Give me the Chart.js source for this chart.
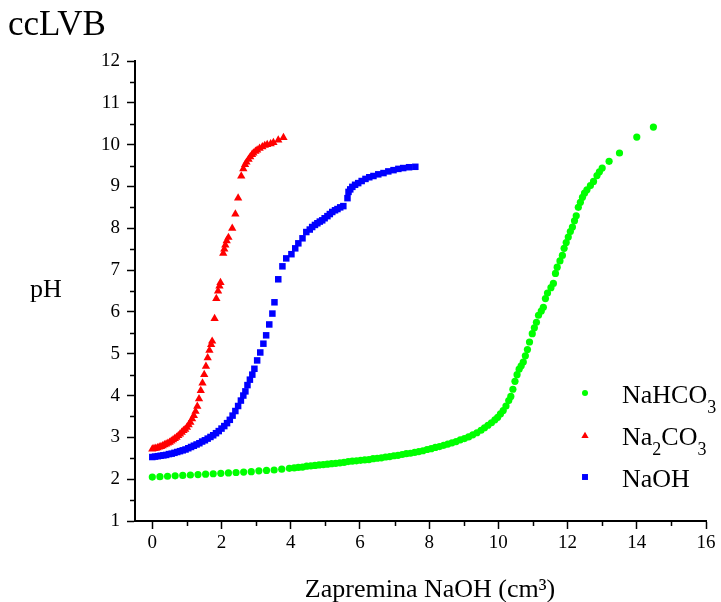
<!DOCTYPE html>
<html>
<head>
<meta charset="utf-8">
<script src="https://cdn.jsdelivr.net/npm/chart.js@4.4.0/dist/chart.umd.min.js"></script>
<style>
	html, body { margin: 0; padding: 0; background: #ffffff; }
	#wrap { position: relative; width: 721px; height: 602px; }
</style>
</head>
<body>
<div id="wrap"><canvas id="phChart"></canvas></div>
<script>
// Titration data (volume NaOH in cm3, pH)
const nahco3X = [0.00,0.22,0.44,0.66,0.88,1.10,1.32,1.54,1.76,1.98,2.20,2.42,2.64,2.86,3.08,3.30,3.52,3.74,3.96,4.10,4.22,4.34,4.46,4.58,4.70,4.82,4.94,5.06,5.18,5.30,5.42,5.54,5.66,5.78,5.90,6.02,6.14,6.26,6.38,6.50,6.62,6.74,6.86,6.98,7.10,7.22,7.34,7.46,7.58,7.70,7.82,7.94,8.06,8.18,8.30,8.42,8.54,8.66,8.78,8.90,9.02,9.14,9.26,9.38,9.50,9.60,9.70,9.80,9.90,9.98,10.06,10.14,10.22,10.30,10.36,10.42,10.48,10.54,10.60,10.66,10.72,10.78,10.84,10.90,10.98,11.04,11.10,11.16,11.24,11.30,11.36,11.42,11.52,11.59,11.65,11.70,11.78,11.85,11.90,11.96,12.02,12.08,12.14,12.20,12.25,12.31,12.37,12.43,12.49,12.56,12.66,12.75,12.85,12.92,13.00,13.20,13.50,14.00,14.48];
const nahco3Y = [2.05,2.06,2.07,2.08,2.09,2.10,2.11,2.12,2.13,2.14,2.15,2.16,2.17,2.18,2.20,2.21,2.22,2.24,2.26,2.27,2.28,2.29,2.31,2.32,2.33,2.34,2.35,2.36,2.37,2.38,2.39,2.40,2.42,2.43,2.44,2.45,2.46,2.47,2.49,2.50,2.51,2.53,2.54,2.56,2.57,2.59,2.61,2.62,2.64,2.66,2.68,2.71,2.73,2.76,2.78,2.81,2.84,2.87,2.90,2.94,2.97,3.01,3.06,3.11,3.17,3.23,3.29,3.35,3.42,3.48,3.56,3.64,3.75,3.88,3.98,4.15,4.34,4.50,4.63,4.71,4.80,4.95,5.10,5.28,5.48,5.62,5.75,5.92,6.02,6.11,6.32,6.45,6.58,6.68,6.92,7.07,7.22,7.35,7.52,7.66,7.79,7.92,8.03,8.18,8.30,8.50,8.62,8.74,8.84,8.92,9.02,9.12,9.26,9.35,9.44,9.60,9.80,10.18,10.42];

const na2co3X = [0.00,0.05,0.10,0.15,0.20,0.25,0.30,0.35,0.40,0.45,0.50,0.55,0.60,0.65,0.70,0.75,0.80,0.85,0.90,0.95,1.00,1.05,1.10,1.15,1.20,1.25,1.30,1.35,1.40,1.45,1.50,1.55,1.60,1.65,1.70,1.73,1.80,1.85,1.90,1.94,1.97,2.05,2.08,2.11,2.15,2.20,2.31,2.40,2.48,2.57,2.63,2.68,2.72,2.78,2.83,2.88,2.92,2.98,3.03,3.10,3.18,3.25,3.32,3.42,3.50,3.64,3.79];
const na2co3Y = [2.72,2.73,2.74,2.75,2.77,2.78,2.80,2.82,2.84,2.86,2.88,2.91,2.94,2.97,3.00,3.04,3.08,3.12,3.16,3.19,3.24,3.30,3.36,3.44,3.52,3.62,3.74,3.92,4.12,4.30,4.50,4.70,4.90,5.08,5.22,5.30,5.84,6.32,6.50,6.62,6.70,7.40,7.50,7.60,7.70,7.78,8.00,8.34,8.72,9.25,9.42,9.52,9.58,9.65,9.71,9.76,9.80,9.84,9.87,9.91,9.95,9.98,10.00,10.02,10.05,10.11,10.17];

const naohX = [0.00,0.08,0.16,0.24,0.32,0.40,0.48,0.56,0.64,0.72,0.80,0.88,0.96,1.04,1.12,1.20,1.28,1.36,1.44,1.52,1.60,1.68,1.76,1.84,1.92,2.00,2.08,2.16,2.24,2.32,2.40,2.48,2.56,2.63,2.69,2.75,2.82,2.89,2.95,3.03,3.12,3.21,3.29,3.38,3.47,3.53,3.64,3.76,3.87,4.02,4.13,4.22,4.34,4.45,4.55,4.62,4.70,4.77,4.84,4.91,4.98,5.06,5.13,5.20,5.28,5.35,5.43,5.52,5.64,5.67,5.72,5.78,5.86,5.95,6.05,6.16,6.27,6.39,6.53,6.68,6.82,6.97,7.11,7.25,7.42,7.60];
const naohY = [2.53,2.54,2.55,2.56,2.57,2.58,2.60,2.61,2.63,2.65,2.67,2.69,2.71,2.74,2.77,2.80,2.83,2.86,2.90,2.93,2.97,3.01,3.05,3.10,3.15,3.21,3.27,3.34,3.42,3.52,3.63,3.75,3.88,4.00,4.10,4.25,4.38,4.50,4.64,4.84,5.03,5.24,5.44,5.70,5.96,6.23,6.78,7.09,7.28,7.38,7.52,7.64,7.76,7.91,7.97,8.03,8.08,8.12,8.16,8.19,8.24,8.29,8.34,8.39,8.43,8.46,8.50,8.53,8.72,8.87,8.93,8.99,9.04,9.08,9.13,9.18,9.22,9.25,9.29,9.32,9.36,9.39,9.42,9.44,9.46,9.47];

// Axis ticks
const xTickValues = [0, 2, 4, 6, 8, 10, 12, 14, 16];
const xMinorValues = [1, 3, 5, 7, 9, 11, 13, 15];
const yTickValues = [1, 2, 3, 4, 5, 6, 7, 8, 9, 10, 11, 12];
const yMinorValues = [1.5, 2.5, 3.5, 4.5, 5.5, 6.5, 7.5, 8.5, 9.5, 10.5, 11.5];

// Legend labels, split so subscripts can be drawn smaller
const legendLabels = [
	[["NaHCO", false], ["3", true]],
	[["Na", false], ["2", true], ["CO", false], ["3", true]],
	[["NaOH", false]],
];

const serif = "'Liberation Serif', 'Times New Roman', serif";

function toPoints(xs, ys) {
	return xs.map((x, i) => ({ x: x, y: ys[i] }));
}

// Extra drawing: minor ticks, title, axis titles, legend
const decorPlugin = {
	id: "decor",
	afterDraw(chart) {
		const ctx = chart.ctx;
		const xs = chart.scales.x;
		const ys = chart.scales.y;
		ctx.save();

		// minor ticks
		ctx.strokeStyle = "#000000";
		ctx.lineWidth = 1.5;
		ctx.beginPath();
		xMinorValues.forEach((v) => {
			const px = Math.round(xs.getPixelForValue(v)) + 0.5;
			ctx.moveTo(px, xs.top);
			ctx.lineTo(px, xs.top + 5);
		});
		yMinorValues.forEach((v) => {
			const py = Math.round(ys.getPixelForValue(v)) + 0.5;
			ctx.moveTo(ys.right, py);
			ctx.lineTo(ys.right - 5, py);
		});
		ctx.stroke();

		ctx.fillStyle = "#000000";
		ctx.textAlign = "left";
		ctx.textBaseline = "alphabetic";

		// title
		ctx.font = "35px " + serif;
		ctx.fillText("ccLVB", 8, 35);

		// y axis title (horizontal)
		ctx.font = "26px " + serif;
		ctx.fillText("pH", 30, 297);

		// x axis title
		ctx.textAlign = "center";
		ctx.fillText("Zapremina NaOH (cm³)", 430, 597);
		ctx.textAlign = "left";

		// legend
		const markerX = 585;
		const rowY = [393, 436, 477];
		const baseY = [403, 445, 487];
		[0, 1, 2].forEach((dsIndex, row) => {
			const ds = chart.data.datasets[dsIndex];
			ctx.fillStyle = ds.backgroundColor;
			Chart.helpers.drawPoint(
				ctx,
				{
					pointStyle: ds.pointStyle,
					radius: ds.legendRadius,
					rotation: 0,
					borderWidth: 0,
				},
				markerX,
				rowY[row],
			);
			ctx.fillStyle = "#000000";
			let tx = 622;
			legendLabels[row].forEach(([text, sub]) => {
				ctx.font = (sub ? "18px " : "26px ") + serif;
				ctx.fillText(text, tx, baseY[row] + (sub ? 10 : 0));
				tx += ctx.measureText(text).width;
			});
		});

		ctx.restore();
	},
};

new Chart(document.getElementById("phChart"), {
	type: "scatter",
	data: {
		datasets: [
			{
				label: "NaHCO3",
				data: toPoints(nahco3X, nahco3Y),
				pointStyle: "circle",
				pointRadius: 3.6,
				legendRadius: 3,
				backgroundColor: "#00FF00",
				borderColor: "#00FF00",
				pointBorderWidth: 0,
			},
			{
				label: "Na2CO3",
				data: toPoints(na2co3X, na2co3Y),
				pointStyle: "triangle",
				pointRadius: 4.8,
				legendRadius: 4.2,
				backgroundColor: "#FF0000",
				borderColor: "#FF0000",
				pointBorderWidth: 0,
			},
			{
				label: "NaOH",
				data: toPoints(naohX, naohY),
				pointStyle: "rect",
				pointRadius: 4.6,
				legendRadius: 4.2,
				backgroundColor: "#0000FF",
				borderColor: "#0000FF",
				pointBorderWidth: 0,
			},
		],
	},
	options: {
		responsive: true,
		maintainAspectRatio: false,
		animation: false,
		events: [],
		layout: {
			padding: { left: 0, right: 15, top: 61, bottom: 0 },
		},
		plugins: {
			legend: { display: false },
			tooltip: { enabled: false },
		},
		scales: {
			x: {
				type: "linear",
				min: -0.5,
				max: 16,
				afterBuildTicks: (s) => {
					s.ticks = xTickValues.map((v) => ({ value: v }));
				},
				afterFit: (s) => {
					s.height = 81;
				},
				border: { display: true, color: "#000000", width: 2 },
				grid: {
					drawOnChartArea: false,
					drawTicks: true,
					tickLength: 8,
					tickWidth: 1.5,
					tickColor: "#000000",
				},
				ticks: {
					padding: 3,
					color: "#000000",
					maxRotation: 0,
					font: { size: 19, family: serif },
				},
			},
			y: {
				type: "linear",
				min: 1,
				max: 12,
				afterBuildTicks: (s) => {
					s.ticks = yTickValues.map((v) => ({ value: v }));
				},
				afterFit: (s) => {
					s.width = 135;
				},
				border: { display: true, color: "#000000", width: 2 },
				grid: {
					drawOnChartArea: false,
					drawTicks: true,
					tickLength: 8,
					tickWidth: 1.5,
					tickColor: "#000000",
				},
				ticks: {
					padding: 7,
					color: "#000000",
					font: { size: 19, family: serif },
				},
			},
		},
	},
	plugins: [decorPlugin],
});
</script>
</body>
</html>
